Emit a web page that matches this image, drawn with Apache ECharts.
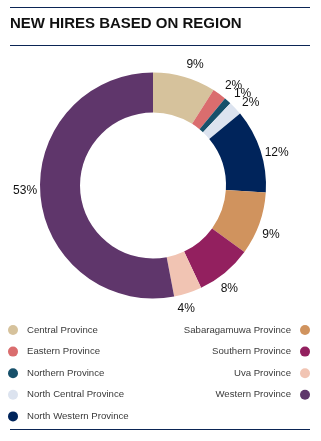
<!DOCTYPE html>
<html><head><meta charset="utf-8">
<script src="https://cdn.jsdelivr.net/npm/echarts@6/dist/echarts.min.js"></script>
<style>html,body{margin:0;padding:0;background:#fff}#c{width:321px;height:441px}</style>
</head><body><div id="c"></div>
<script>
var categories = ["Central Province","Eastern Province","Northern Province","North Central Province","North Western Province","Sabaragamuwa Province","Southern Province","Uva Province","Western Province"];
var values = [9,2,1,2,12,9,8,4,53];
var colors = ["#D6C29C","#DA6D6E","#17506A","#DCE3EF","#00245B","#D0935E","#93205F","#F1C4B3","#5F366B"];
var leftLegend = categories.slice(0,5);
var rightLegend = categories.slice(5);
var title = "NEW HIRES BASED ON REGION";

var CX = 153, CY = 185.5, R_IN = 73, R_OUT = 113, LABEL_R = 128, LABEL_SHIFT = 3;
var total = values.reduce(function(a,b){return a+b;},0);

var chart = echarts.init(document.getElementById('c'));
var lineColor = '#0B2555';
var legendText = {fontFamily:'Liberation Sans, Arial', fontSize:9.6, color:'#3a3a3a'};
var legendCommon = {orient:'vertical', icon:'circle', itemWidth:10, itemHeight:10, itemGap:11.6, selectedMode:false};
chart.setOption({
  animation:false,
  color: colors,
  title:{text:title, left:10, top:16, padding:0, textStyle:{fontFamily:'Liberation Sans, Arial', fontWeight:'bold', fontSize:15, color:'#111'}},
  graphic:[
    {type:'line', shape:{x1:10,y1:7.5,x2:310,y2:7.5}, style:{stroke:lineColor, lineWidth:1.2}},
    {type:'line', shape:{x1:10,y1:45.5,x2:310,y2:45.5}, style:{stroke:lineColor, lineWidth:1.2}},
    {type:'line', shape:{x1:10,y1:429.5,x2:310,y2:429.5}, style:{stroke:lineColor, lineWidth:1.2}}
  ],
  legend:[
    Object.assign({}, legendCommon, {data:leftLegend, left:3, top:320, align:'left',
      textStyle:Object.assign({}, legendText, {padding:[0,0,0,4]})}),
    Object.assign({}, legendCommon, {data:rightLegend, right:6, top:320, align:'right',
      textStyle:Object.assign({}, legendText, {padding:[0,4,0,0]})})
  ],
  series:[{
    type:'pie', center:[CX,CY], radius:[R_IN,R_OUT], startAngle:90, clockwise:true,
    avoidLabelOverlap:false,
    label:{show:true, position:'outside', formatter:'{c}%', fontFamily:'Liberation Sans, Arial', fontSize:12, color:'#111'},
    labelLine:{show:false},
    labelLayout:function(p){
      var before = 0;
      for (var i=0;i<p.dataIndex;i++) before += values[i];
      var mid = (before + values[p.dataIndex]/2)/total*360 + LABEL_SHIFT;
      var a = mid*Math.PI/180;
      return {x: CX + LABEL_R*Math.sin(a), y: CY - LABEL_R*Math.cos(a), align:'center', verticalAlign:'middle'};
    },
    emphasis:{disabled:true},
    data: categories.map(function(n,i){return {name:n, value:values[i]};})
  }]
});
</script></body></html>
